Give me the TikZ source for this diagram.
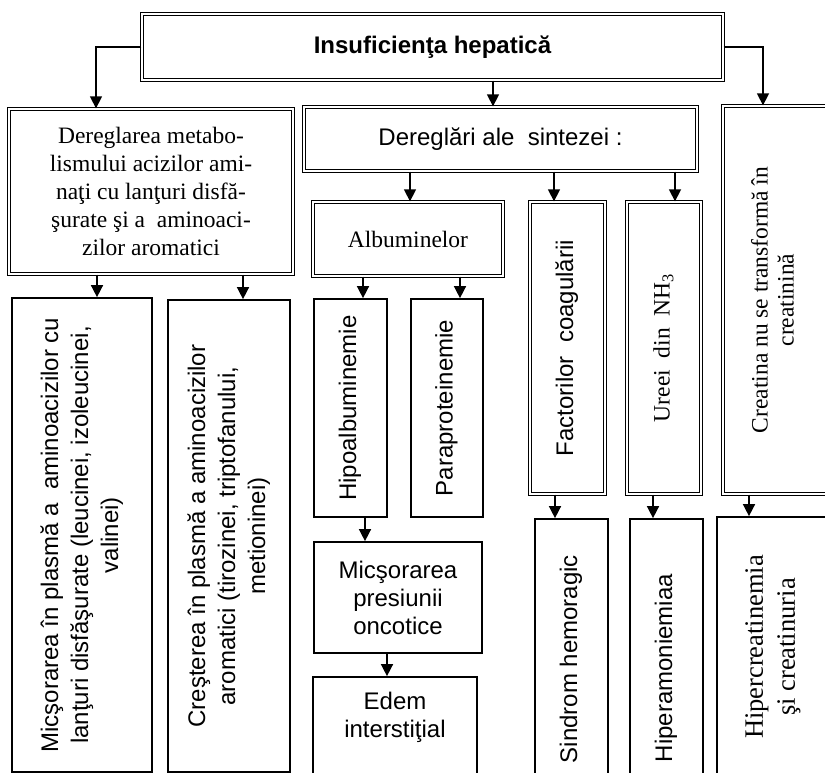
\documentclass[tikz,border=0pt]{standalone}
\usepackage{fontspec}
\setmainfont{Liberation Serif}
\setsansfont{Liberation Sans}
\usetikzlibrary{arrows.meta}
\newcommand{\vtext}[1]{\rotatebox{90}{\begin{tabular}{@{}c@{}}#1\end{tabular}}}

\begin{document}
\begin{tikzpicture}[x=1pt,y=-1pt,
  dbox/.style={draw, line width=1.3pt, double, double distance=1.6pt, inner sep=0pt, align=center},
  sbox/.style={draw, line width=1.7pt, inner sep=0pt, align=center},
  arr/.style={line width=1.5pt, -{Triangle[length=12pt,width=12pt]}},
  arial/.style={font=\sffamily\fontsize{24}{28}\selectfont},
  times/.style={font=\rmfamily\fontsize{23.5}{28}\selectfont}]
\useasboundingbox (0,0) rectangle (825,773);
%\draw[step=50pt,gray,very thin] (0,0) grid (825,773); %background grid
\node[dbox, font=\sffamily\bfseries\fontsize{24}{28}\selectfont, minimum width=581, minimum height=66] (ih) at (432.5,47) {Insuficienţa hepatică};
\node[dbox, times, minimum width=284, minimum height=165] (metab) at (151,191.5) {Dereglarea metabo-\\lismului acizilor ami-\\naţi cu lanţuri disfă-\\şurate şi a\ \ aminoaci-\\zilor aromatici};
\node[dbox, arial, minimum width=393, minimum height=64] (sint) at (500.5,139) {Dereglări ale\ \ sintezei :};
\node[dbox, font=\rmfamily\fontsize{23.5}{26}\selectfont, minimum width=105, minimum height=388] (creat) at (775.5,300) {\vtext{Creatina nu se transformă în\\creatinină}};
\node[dbox, times, minimum width=190, minimum height=74] (alb) at (408,239) {Albuminelor};
\node[dbox, arial, minimum width=75, minimum height=292] (fact) at (567.5,348) {\vtext{Factorilor\ \ coagulării}};
\node[dbox, times, minimum width=74, minimum height=292] (ureea) at (664,348) {\vtext{Ureei\ \ din\ \ NH\textsubscript{3}}};

\node[sbox, font=\sffamily\fontsize{24}{30}\selectfont, minimum width=140, minimum height=474] (scad) at (82,535) {\vtext{Micşorarea în plasmă a\ \ aminoacizilor cu\\lanţuri disfăşurate (leucinei, izoleucinei,\\valinei)}};
\node[sbox, font=\sffamily\fontsize{24}{30}\selectfont, minimum width=122, minimum height=472] (cresc) at (229,536) {\vtext{Creşterea în plasmă a aminoacizilor\\aromatici (tirozinei, triptofanului,\\metioninei)}};
\node[sbox, arial, minimum width=73, minimum height=218] (hipo) at (350.5,408) {\vtext{Hipoalbuminemie}};
\node[sbox, arial, minimum width=72, minimum height=218] (para) at (447,408) {\vtext{Paraproteinemie}};
\node[sbox, arial, minimum width=168, minimum height=111] (presiune) at (398,597.5) {Micşorarea\\presiunii\\oncotice};
\node[sbox, minimum width=164, minimum height=123] (edem) at (395,738.5) {};
\node[arial, align=center] (edemtxt) at (395,717.5) {Edem\\interstiţial};
\node[sbox, arial, minimum width=73, minimum height=280] (sindr) at (571.5,659) {\vtext{Sindrom hemoragic}};
\node[sbox, arial, minimum width=73, minimum height=298] (hamon) at (666.5,668) {\vtext{Hiperamoniemiaa}};
\node[sbox, font=\rmfamily\fontsize{26.5}{32}\selectfont, minimum width=111, minimum height=260] (hcreat) at (772.5,647) {\vtext{Hipercreatinemia\\şi creatinuria}};

\draw[arr] (ih.west) -| ([xshift=-55pt]metab.north);
\draw[arr] (ih.east) -| ([xshift=-12.5pt]creat.north);
\draw[arr] ([xshift=-7.5pt]sint.north |- ih.south) -- ([xshift=-7.5pt]sint.north);
\draw[arr] ([xshift=-54pt]metab.south) -- ([xshift=-54pt]metab.south |- scad.north);
\draw[arr] ([xshift=92pt]metab.south) -- ([xshift=92pt]metab.south |- cresc.north);
\draw[arr] ([xshift=-90.5pt]sint.south) -- ([xshift=-90.5pt]sint.south |- alb.north);
\draw[arr] ([xshift=53.5pt]sint.south) -- ([xshift=53.5pt]sint.south |- fact.north);
\draw[arr] ([xshift=174.5pt]sint.south) -- ([xshift=174.5pt]sint.south |- ureea.north);
\draw[arr] ([xshift=-45pt]alb.south) -- ([xshift=-45pt]alb.south |- hipo.north);
\draw[arr] ([xshift=52pt]alb.south) -- ([xshift=52pt]alb.south |- para.north);
\draw[arr] ([xshift=14.5pt]hipo.south) -- ([xshift=14.5pt]hipo.south |- presiune.north);
\draw[arr] ([xshift=-11pt]presiune.south) -- ([xshift=-11pt]presiune.south |- edem.north);
\draw[arr] ([xshift=-12.5pt]fact.south) -- ([xshift=-12.5pt]fact.south |- sindr.north);
\draw[arr] ([xshift=-11pt]ureea.south) -- ([xshift=-11pt]ureea.south |- hamon.north);
\draw[arr] ([xshift=-26.5pt]creat.south) -- ([xshift=-26.5pt]creat.south |- hcreat.north);
\end{tikzpicture}
\end{document}
